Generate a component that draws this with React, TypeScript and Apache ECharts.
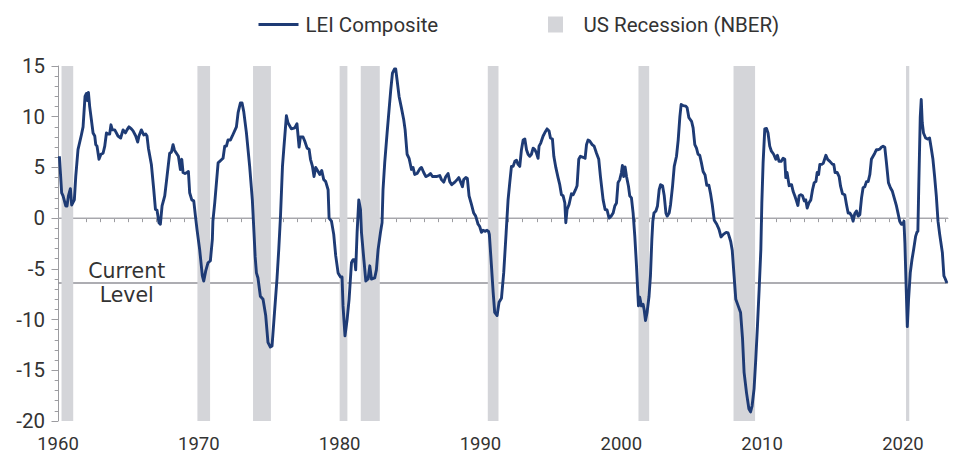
import React, { useEffect, useRef } from "react";
import * as echarts from "echarts";

// LEI Composite, y/y % change — [year, value]
const lei1960s: [number, number][] = [
  [1960.1, 6.1], [1960.26, 2.5], [1960.36, 2.2], [1960.55, 1.2], [1960.64, 1.2], [1960.74, 2.2], [1960.88, 2.9],
  [1960.97, 1.3], [1961.16, 1.8], [1961.26, 4.1], [1961.42, 6.75], [1961.66, 8.2], [1961.78, 9.0], [1961.92, 12.0],
  [1962.02, 12.3], [1962.09, 11.6], [1962.16, 12.4], [1962.25, 11.0], [1962.37, 9.7], [1962.49, 8.4], [1962.61, 8.1],
  [1962.68, 7.25], [1962.77, 7.1], [1962.91, 5.8], [1963.05, 6.3], [1963.2, 6.4], [1963.32, 7.1], [1963.44, 8.4],
  [1963.55, 8.3], [1963.67, 8.3], [1963.76, 9.2], [1963.86, 8.7], [1964.03, 8.7], [1964.26, 8.1], [1964.45, 7.9],
  [1964.62, 8.7], [1964.79, 8.4], [1964.9, 8.7], [1965.04, 9.0], [1965.21, 8.8], [1965.33, 8.6], [1965.52, 8.1],
  [1965.66, 7.5], [1965.75, 8.1], [1965.92, 8.7], [1966.09, 8.2], [1966.23, 8.3], [1966.32, 8.1], [1966.42, 6.9],
  [1966.63, 5.3], [1966.8, 2.8], [1966.92, 0.86], [1967.03, 0.8], [1967.17, -0.45], [1967.27, -0.6], [1967.39, 1.2],
  [1967.58, 2.2], [1967.74, 4.1], [1967.93, 6.4], [1968.05, 6.5], [1968.17, 7.25], [1968.27, 6.7], [1968.41, 6.4],
  [1968.55, 6.1], [1968.69, 4.8], [1968.79, 5.8], [1968.88, 4.5], [1969.02, 4.4], [1969.16, 4.5], [1969.26, 4.6],
  [1969.35, 2.5], [1969.5, 1.8], [1969.64, 1.7], [1969.76, 0.2], [1969.87, -1.1],
];
const lei1970s: [number, number][] = [
  [1970.06, -3.1], [1970.25, -5.7], [1970.35, -6.2], [1970.49, -5.2], [1970.65, -4.4], [1970.82, -4.2], [1970.96, -2.1],
  [1971.0, -0.3], [1971.13, 1.5], [1971.37, 5.45], [1971.72, 5.9], [1971.84, 7.1], [1971.96, 7.1], [1972.07, 7.7],
  [1972.24, 7.7], [1972.38, 8.1], [1972.67, 9.0], [1972.79, 10.4], [1972.95, 11.35], [1973.07, 11.35], [1973.19, 10.5],
  [1973.38, 8.4], [1973.61, 5.1], [1973.8, 1.8], [1973.92, -1.5], [1974.0, -3.8], [1974.09, -5.4], [1974.2, -5.9],
  [1974.37, -7.7], [1974.56, -8.0], [1974.75, -9.6], [1974.91, -12.25], [1975.08, -12.7], [1975.2, -12.6],
  [1975.39, -9.0], [1975.55, -6.0], [1975.68, -3.0], [1975.8, 0.2], [1975.94, 5.1], [1976.03, 6.75], [1976.22, 10.1],
  [1976.33, 9.4], [1976.57, 8.8], [1976.81, 8.9], [1976.97, 9.3], [1977.12, 7.0], [1977.21, 8.0], [1977.4, 8.0],
  [1977.52, 7.6], [1977.69, 6.9], [1977.83, 6.8], [1977.93, 5.8], [1978.07, 5.1], [1978.18, 4.1], [1978.3, 5.0],
  [1978.47, 4.6], [1978.59, 4.3], [1978.73, 4.7], [1978.87, 3.8], [1979.01, 3.6], [1979.18, 2.8], [1979.25, 0.0],
  [1979.42, -0.3], [1979.58, -1.6], [1979.72, -3.7], [1979.89, -5.4],
];
const lei1980s: [number, number][] = [
  [1980.06, -5.8], [1980.17, -5.8], [1980.24, -8.65], [1980.38, -11.6], [1980.53, -10.0], [1980.67, -8.0],
  [1980.84, -4.4], [1980.95, -4.1], [1981.07, -4.1], [1981.14, -5.1], [1981.24, -1.4], [1981.36, 1.8], [1981.48, 0.85],
  [1981.55, -1.4], [1981.72, -4.1], [1981.86, -6.2], [1982.02, -6.0], [1982.14, -4.7], [1982.26, -6.0], [1982.49, -5.9],
  [1982.61, -5.1], [1982.73, -3.1], [1982.9, -1.4], [1983.01, -0.45], [1983.08, 2.8], [1983.2, 5.45], [1983.37, 8.4],
  [1983.51, 10.7], [1983.63, 12.65], [1983.75, 14.3], [1983.89, 14.7], [1983.98, 14.7], [1984.08, 13.6], [1984.22, 12.0],
  [1984.39, 10.85], [1984.55, 9.7], [1984.65, 8.7], [1984.79, 6.3], [1984.93, 5.9], [1985.1, 4.8], [1985.21, 5.0],
  [1985.33, 4.3], [1985.5, 4.4], [1985.69, 4.85], [1985.81, 5.0], [1985.97, 4.5], [1986.12, 4.1], [1986.28, 4.2],
  [1986.45, 4.4], [1986.59, 4.1], [1986.87, 4.1], [1987.11, 4.2], [1987.23, 3.8], [1987.39, 3.55], [1987.54, 4.1],
  [1987.7, 4.4], [1987.82, 3.6], [1987.96, 3.3], [1988.18, 3.55], [1988.34, 3.8], [1988.46, 4.0], [1988.58, 3.6],
  [1988.72, 3.1], [1988.81, 3.8], [1988.96, 4.0], [1989.07, 3.9], [1989.19, 2.2], [1989.36, 1.35], [1989.52, 0.5],
  [1989.66, 0.2], [1989.83, -0.6], [1989.94, -0.8],
];
const lei1990s: [number, number][] = [
  [1990.07, -1.4], [1990.18, -1.2], [1990.32, -1.3], [1990.47, -1.2], [1990.57, -1.3], [1990.63, -1.6], [1990.78, -4.7],
  [1990.9, -7.3], [1991.01, -9.3], [1991.18, -9.6], [1991.32, -8.3], [1991.49, -7.9], [1991.65, -5.4], [1991.82, -1.5],
  [1991.96, 1.8], [1992.08, 3.5], [1992.2, 5.1], [1992.32, 5.1], [1992.44, 5.6], [1992.56, 5.7], [1992.67, 5.3],
  [1992.79, 5.1], [1992.91, 6.75], [1993.03, 7.7], [1993.15, 7.8], [1993.27, 6.75], [1993.38, 6.3], [1993.5, 6.1],
  [1993.62, 6.3], [1993.74, 6.9], [1993.86, 6.75], [1993.98, 6.4], [1994.09, 5.9], [1994.16, 7.1], [1994.28, 7.4],
  [1994.45, 8.1], [1994.62, 8.55], [1994.73, 8.8], [1994.87, 8.6], [1994.97, 7.9], [1995.11, 7.8], [1995.21, 6.1],
  [1995.35, 5.0], [1995.51, 4.0], [1995.63, 3.3], [1995.75, 2.3], [1995.87, 2.2], [1995.99, 1.5], [1996.06, -0.45],
  [1996.15, 0.85], [1996.29, 1.35], [1996.46, 2.4], [1996.58, 2.3], [1996.75, 2.8], [1996.86, 3.2], [1996.98, 5.8],
  [1997.1, 6.1], [1997.29, 6.0], [1997.43, 5.9], [1997.53, 7.25], [1997.64, 7.7], [1997.76, 7.6], [1997.93, 7.25],
  [1998.07, 7.1], [1998.24, 6.4], [1998.4, 5.8], [1998.52, 4.1], [1998.71, 1.8], [1998.85, 0.85], [1998.99, 0.8],
  [1999.13, 0.0], [1999.28, 0.2], [1999.42, 0.5], [1999.54, 1.2], [1999.66, 1.5], [1999.77, 3.5], [1999.89, 3.8],
];
const lei2000s: [number, number][] = [
  [2000.01, 4.5], [2000.08, 5.2], [2000.17, 4.1], [2000.27, 5.05], [2000.37, 4.1], [2000.51, 3.15], [2000.6, 2.2],
  [2000.72, 2.0], [2000.84, 0.5], [2000.96, -1.8], [2001.08, -4.7], [2001.15, -6.7], [2001.22, -8.65], [2001.31, -7.8],
  [2001.43, -8.65], [2001.55, -8.5], [2001.62, -9.0], [2001.72, -10.1], [2001.83, -9.3], [2001.97, -7.7],
  [2002.07, -5.7], [2002.17, -2.1], [2002.24, -0.3], [2002.32, 0.5], [2002.46, 0.7], [2002.57, 1.2], [2002.69, 2.8],
  [2002.79, 3.3], [2002.93, 3.2], [2003.05, 2.2], [2003.17, 0.5], [2003.26, 0.2], [2003.4, 0.5], [2003.5, 1.35],
  [2003.64, 3.15], [2003.76, 5.1], [2003.92, 6.1], [2004.04, 7.7], [2004.16, 10.0], [2004.25, 11.2], [2004.39, 11.1],
  [2004.58, 11.05], [2004.67, 10.9], [2004.8, 9.9], [2004.99, 9.55], [2005.1, 8.9], [2005.22, 7.25], [2005.34, 6.9],
  [2005.45, 6.3], [2005.57, 6.2], [2005.69, 5.45], [2005.81, 4.6], [2005.95, 4.25], [2006.07, 3.25], [2006.22, 3.25],
  [2006.34, 2.4], [2006.46, 1.35], [2006.6, -0.2], [2006.78, -0.6], [2006.94, -1.1], [2007.08, -1.85], [2007.25, -1.6],
  [2007.45, -1.4], [2007.58, -1.45], [2007.66, -1.8], [2007.77, -2.3], [2007.88, -3.2], [2008.01, -5.7], [2008.13, -8.0],
  [2008.3, -8.65], [2008.47, -9.3], [2008.61, -11.9], [2008.72, -15.2], [2008.89, -17.2], [2009.06, -18.8],
  [2009.18, -19.1], [2009.29, -18.5], [2009.43, -16.8], [2009.55, -13.9], [2009.67, -10.6], [2009.79, -7.0],
  [2009.91, -3.1],
];
const lei2010s: [number, number][] = [
  [2009.98, 1.5], [2010.07, 5.45], [2010.19, 8.8], [2010.31, 8.85], [2010.42, 8.4], [2010.54, 7.1], [2010.66, 6.6],
  [2010.82, 6.3], [2010.97, 5.8], [2011.09, 6.2], [2011.2, 5.6], [2011.35, 5.6], [2011.49, 5.9], [2011.61, 5.8],
  [2011.68, 4.0], [2011.77, 4.5], [2011.92, 3.2], [2012.09, 3.3], [2012.2, 2.65], [2012.32, 2.2], [2012.44, 1.7],
  [2012.54, 1.25], [2012.63, 2.2], [2012.75, 2.3], [2012.87, 2.2], [2012.99, 1.7], [2013.1, 1.8], [2013.2, 1.0],
  [2013.32, 1.5], [2013.46, 1.8], [2013.58, 2.8], [2013.7, 3.5], [2013.82, 3.6], [2013.91, 4.5], [2014.01, 4.3],
  [2014.1, 5.3], [2014.22, 5.3], [2014.34, 5.4], [2014.46, 5.9], [2014.53, 6.2], [2014.65, 5.8], [2014.81, 5.6],
  [2015.0, 5.3], [2015.09, 5.3], [2015.18, 4.5], [2015.33, 4.5], [2015.47, 4.1], [2015.57, 3.15], [2015.71, 2.4],
  [2015.87, 2.3], [2015.99, 1.35], [2016.11, 0.5], [2016.23, 0.5], [2016.35, 0.25], [2016.46, -0.3], [2016.58, 0.45],
  [2016.7, 0.7], [2016.82, 0.2], [2016.94, 0.35], [2017.06, 2.0], [2017.17, 3.0], [2017.29, 3.1], [2017.41, 3.6],
  [2017.53, 3.6], [2017.65, 4.3], [2017.76, 5.8], [2017.88, 6.1], [2018.0, 6.4], [2018.12, 6.75], [2018.24, 6.75],
  [2018.36, 6.8], [2018.47, 7.0], [2018.59, 7.1], [2018.71, 7.0], [2018.83, 5.45], [2018.97, 3.5], [2019.11, 3.0],
  [2019.25, 2.65], [2019.42, 1.8], [2019.54, 1.2], [2019.65, 0.5], [2019.77, -0.3], [2019.89, -0.6],
];
const lei2020s: [number, number][] = [
  [2020.0, -0.6], [2020.07, -0.3], [2020.14, -2.5], [2020.24, -7.3], [2020.31, -10.7], [2020.4, -8.0], [2020.52, -5.4],
  [2020.64, -4.1], [2020.76, -3.1], [2020.9, -1.8], [2020.99, -1.4], [2021.06, -1.3], [2021.13, 3.5], [2021.23, 10.0],
  [2021.3, 11.7], [2021.37, 9.4], [2021.46, 8.4], [2021.61, 7.9], [2021.75, 7.8], [2021.89, 7.9], [2022.01, 6.9],
  [2022.13, 5.8], [2022.25, 4.1], [2022.37, 2.2], [2022.49, -0.3], [2022.61, -1.6], [2022.8, -3.4], [2022.91, -5.7],
  [2023.01, -6.0], [2023.12, -6.4],
];

// NBER recessions [start, end] in fractional years
const recessions: [number, number][] = [
  [1960.25, 1961.08], [1969.9, 1970.8], [1973.85, 1975.12], [1980.0, 1980.55], [1981.5, 1982.85],
  [1990.52, 1991.28], [2001.22, 2001.98], [2007.97, 2009.5], [2020.22, 2020.45],
];

const xMin = 1960;
const xMax = 2023.2;
const yTicks = { min: -20, max: 15, interval: 5 };
const currentLevel = -6.4;
const zeroLevel = 0;

const FONT = "Roboto";
const TEXT = "#333333";
const AXIS = "#9c9ca0";
const NAVY = "#1e3b75";
const BAND = "#d4d5d9";

export default function App() {
  const ref = useRef<HTMLDivElement>(null);

  useEffect(() => {
    if (!ref.current) return;
    const chart = echarts.init(ref.current, null, { renderer: "svg" });
    const lei = [...lei1960s, ...lei1970s, ...lei1980s, ...lei1990s, ...lei2000s, ...lei2010s, ...lei2020s];

    chart.setOption({
      animation: false,
      backgroundColor: "#ffffff",
      grid: { left: 58, right: 6, top: 66, bottom: 31.7 },
      legend: [
        {
          data: [{ name: "LEI Composite", icon: "rect" }],
          left: 253.5,
          top: 9,
          itemWidth: 40,
          itemHeight: 2.8,
          selectedMode: false,
          textStyle: { fontFamily: FONT, fontSize: 20.5, color: TEXT, padding: [0, 0, 0, 2] },
        },
        {
          data: [{ name: "US Recession (NBER)", icon: "rect" }],
          left: 543,
          top: 9,
          itemWidth: 15,
          itemHeight: 16,
          selectedMode: false,
          textStyle: { fontFamily: FONT, fontSize: 20.5, color: TEXT, padding: [0, 0, 0, 15.5] },
        },
      ],
      xAxis: {
        type: "value",
        min: xMin,
        max: xMax,
        interval: 1,
        axisLine: { show: true, lineStyle: { color: AXIS, width: 1 } },
        axisTick: { show: true, length: 4, lineStyle: { color: AXIS } },
        splitLine: { show: false },
        axisLabel: {
          interval: 0,
          showMaxLabel: false,
          margin: 13,
          fontFamily: FONT,
          fontSize: 18.5,
          color: TEXT,
          formatter: (v: number) => (Math.abs(v % 10) < 1e-6 ? String(Math.round(v)) : ""),
        },
      },
      yAxis: {
        type: "value",
        min: yTicks.min,
        max: yTicks.max,
        interval: yTicks.interval,
        axisLine: { show: true, lineStyle: { color: AXIS, width: 1 } },
        axisTick: { show: true, length: 6.5, lineStyle: { color: AXIS } },
        minorTick: { show: true, splitNumber: 5, length: 3.3, lineStyle: { color: AXIS } },
        splitLine: { show: false },
        axisLabel: { margin: 13, fontFamily: FONT, fontSize: 20.5, color: TEXT },
      },
      series: [
        {
          name: "zero",
          type: "line",
          z: 0,
          silent: true,
          symbol: "none",
          data: [[xMin, zeroLevel], [xMax, zeroLevel]],
          lineStyle: { color: "#ababb1", width: 1.3 },
        },
        {
          name: "current",
          type: "line",
          z: 0,
          silent: true,
          symbol: "none",
          data: [[xMin, currentLevel], [xMax, currentLevel]],
          lineStyle: { color: "#929299", width: 1.6 },
        },
        {
          name: "US Recession (NBER)",
          type: "line",
          data: [],
          symbol: "none",
          itemStyle: { color: BAND },
          lineStyle: { color: BAND },
          markArea: {
            silent: true,
            itemStyle: { color: BAND },
            data: recessions.map(([s, e]) => [{ xAxis: s }, { xAxis: e }]),
          },
        },
        {
          name: "LEI Composite",
          type: "line",
          z: 3,
          data: lei,
          showSymbol: false,
          symbol: "none",
          itemStyle: { color: NAVY },
          lineStyle: { color: NAVY, width: 2.9, join: "round" },
        },
      ],
    });

    const px = chart.convertToPixel({ gridIndex: 0 }, [1964.88, currentLevel]) as number[];
    chart.setOption({
      graphic: [
        {
          type: "text",
          x: px[0],
          y: px[1],
          silent: true,
          style: {
            text: "Current\nLevel",
            align: "center",
            verticalAlign: "middle",
            fontFamily: "DejaVu Sans",
            fontSize: 20.5,
            lineHeight: 24,
            fill: TEXT,
          },
        },
      ],
    });

    return () => chart.dispose();
  }, []);

  return (
    <div
      ref={ref}
      style={{ position: "fixed", left: 0, top: 0, width: 954, height: 453, background: "#fff" }}
    />
  );
}
